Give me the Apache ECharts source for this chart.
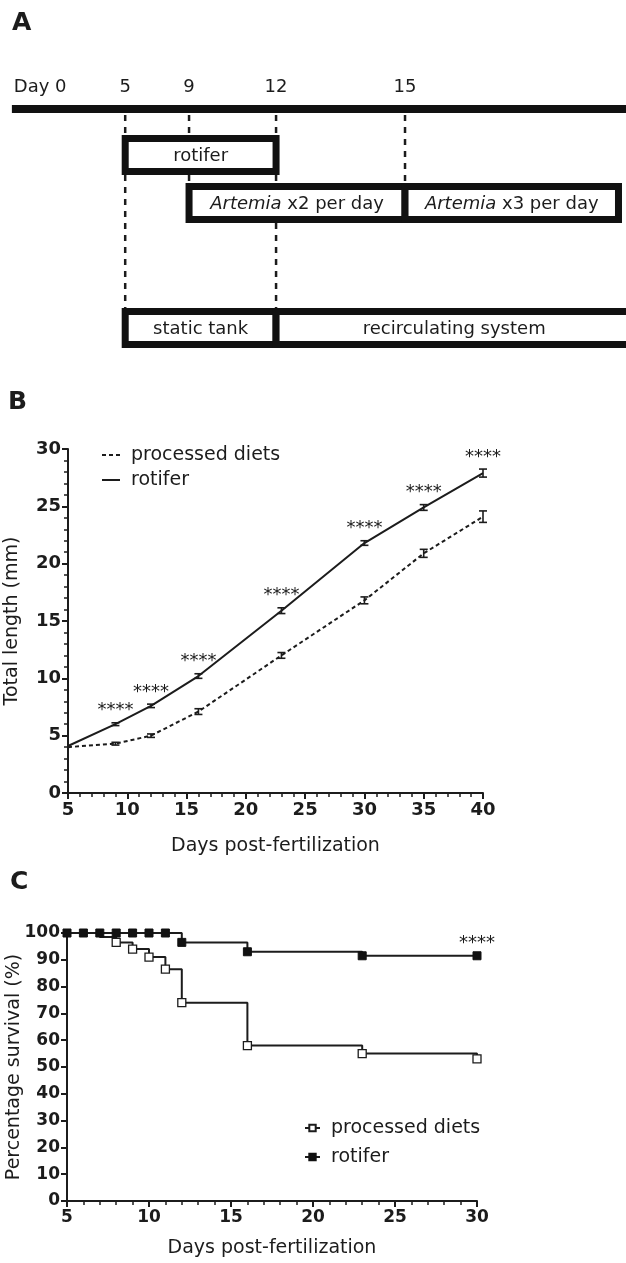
<!DOCTYPE html>
<html><head><meta charset="utf-8">
<script src="https://cdn.jsdelivr.net/npm/echarts@6/dist/echarts.min.js"></script>
<style>html,body{margin:0;padding:0;background:#fff}#c{width:626px;height:1263px}</style>
</head><body><div id="c"></div>
<script>
// ---------- Panel A: feeding / husbandry schedule (schematic) ----------
const dayLabels = ['Day 0', '5', '9', '12', '15'];
const guideDays = [5, 9, 12, 15];
const guideToRow = [3, 2, 3, 2];
const stageNames = ['rotifer', '{i|Artemia} x2 per day', '{i|Artemia} x3 per day', 'static tank', 'recirculating system'];
const stageFrom = ['5', '9', '15', '5', '12'];
const stageTo = ['12', '15', 'end', '12', 'open'];
const stageRow = [1, 2, 2, 3, 3];

// ---------- Panel B: total length ----------
const lengthDays = [5, 9, 12, 16, 23, 30, 35, 40];
const processedLength = [4.0, 4.3, 5.0, 7.1, 12.0, 16.8, 20.9, 24.1];
const processedLengthErr = [0, 0.12, 0.15, 0.25, 0.25, 0.3, 0.35, 0.5];
const rotiferLength = [4.1, 6.0, 7.6, 10.2, 15.9, 21.8, 24.9, 27.9];
const rotiferLengthErr = [0, 0.12, 0.15, 0.2, 0.25, 0.2, 0.25, 0.35];
const lengthSignif = ['', '****', '****', '****', '****', '****', '****', '****'];

// ---------- Panel C: survival ----------
const survProcessedDays = [5, 7, 8, 9, 10, 11, 12, 16, 23, 30];
const survProcessed = [100, 98.5, 96.5, 94, 91, 86.5, 74, 58, 55, 53];
const survProcessedMarker = [false, false, true, true, true, true, true, true, true, true];
const survRotiferDays = [5, 6, 7, 8, 9, 10, 11, 12, 16, 23, 30];
const survRotifer = [100, 100, 100, 100, 100, 100, 100, 96.5, 93, 91.5, 91.5];
const survSignif = '****';

// ---------- layout helpers (schematic positions, % of width) ----------
const schemePos = { 'Day 0': 2.2, '0': 1.9, '5': 20, '9': 30.2, '12': 44.1, '15': 64.7, 'end': 98.8, 'open': 101 };
const rowY = [109, 155, 203, 328];
const rowHalf = 16.5;

const FONT = 'DejaVu Sans';
const INK = '#1c1c1c';

function axisCommon(grid, min, max, interval, minor, labelSize) {
  return {
    type: 'value', gridIndex: grid, min: min, max: max, interval: interval,
    nameMoveOverlap: false,
    axisLine: { show: true, onZero: false, lineStyle: { color: INK, width: 2 } },
    axisTick: { show: true, inside: false, length: 6, lineStyle: { color: INK, width: 2 } },
    minorTick: { show: minor, splitNumber: 5, length: 4, lineStyle: { color: INK, width: 1.5 } },
    splitLine: { show: false },
    minorSplitLine: { show: false },
    axisLabel: { fontFamily: FONT, fontWeight: 'bold', fontSize: labelSize, color: INK, margin: 7 },
    nameTextStyle: { fontFamily: FONT, fontSize: 19, color: INK }
  };
}

const xAxes = [
  { type: 'value', gridIndex: 0, min: 0, max: 100, show: false },
  Object.assign(axisCommon(1, 5, 40, 5, true, 18), { name: 'Days post-fertilization', nameLocation: 'middle', nameGap: 44 }),
  Object.assign(axisCommon(2, 5, 30, 5, true, 17), { name: 'Days post-fertilization', nameLocation: 'middle', nameGap: 38 })
];
xAxes[1].axisLabel.margin = 8; xAxes[2].axisLabel.margin = 8;
const yAxes = [
  { type: 'value', gridIndex: 0, min: 0, max: 360, inverse: true, show: false },
  Object.assign(axisCommon(1, 0, 30, 5, true, 18), { name: 'Total length (mm)', nameLocation: 'middle', nameGap: 46 }),
  Object.assign(axisCommon(2, 0, 100, 10, false, 17), { name: 'Percentage survival (%)', nameLocation: 'middle', nameGap: 43 })
];

const series = [];

// Panel A guides (dashed) drawn first, under the boxes
series.push({
  type: 'custom', xAxisIndex: 0, yAxisIndex: 0, silent: true, z: 1,
  data: guideDays.map((d, i) => [schemePos[String(d)], rowY[0] + 6, rowY[guideToRow[i]] - rowHalf - 3.5]),
  renderItem: function (params, api) {
    const a = api.coord([api.value(0), api.value(1)]);
    const b = api.coord([api.value(0), api.value(2)]);
    return { type: 'line', shape: { x1: a[0], y1: a[1], x2: b[0], y2: b[1] },
      style: { stroke: INK, lineWidth: 2.5, lineDash: [6, 6] } };
  }
});
// Panel A timeline bar and day labels
series.push({
  type: 'custom', xAxisIndex: 0, yAxisIndex: 0, silent: true, z: 3,
  data: dayLabels.map(l => [schemePos[l], l]),
  renderItem: function (params, api) {
    const p = api.coord([api.value(0), rowY[0] - 22]);
    const label = dayLabels[params.dataIndex];
    const children = [{ type: 'text', style: { text: label, x: p[0], y: p[1], fill: INK,
      font: '18px "' + FONT + '"', align: label === 'Day 0' ? 'left' : 'center', verticalAlign: 'middle' } }];
    if (params.dataIndex === 0) {
      const s = api.coord([schemePos['0'], rowY[0]]);
      const e = api.coord([100, rowY[0]]);
      children.push({ type: 'line', shape: { x1: s[0], y1: s[1], x2: e[0], y2: e[1] },
        style: { stroke: '#111', lineWidth: 8 } });
    }
    return { type: 'group', children: children };
  }
});
// Panel A stage boxes
series.push({
  type: 'custom', xAxisIndex: 0, yAxisIndex: 0, silent: true, z: 2,
  data: stageNames.map((n, i) => [schemePos[stageFrom[i]], schemePos[stageTo[i]], rowY[stageRow[i]]]),
  renderItem: function (params, api) {
    const tl = api.coord([api.value(0), api.value(2) - rowHalf]);
    const br = api.coord([api.value(1), api.value(2) + rowHalf]);
    const c = api.coord([(api.value(0) + api.value(1)) / 2, api.value(2)]);
    return { type: 'group', children: [
      { type: 'rect', shape: { x: tl[0], y: tl[1], width: br[0] - tl[0], height: br[1] - tl[1] },
        style: { fill: '#fff', stroke: '#111', lineWidth: 7 } },
      { type: 'text', style: { text: stageNames[params.dataIndex], x: c[0], y: c[1] + 1, fill: INK,
        font: '18px "' + FONT + '"', align: 'center', verticalAlign: 'middle',
        rich: { i: { fontStyle: 'italic', fontFamily: FONT, fontSize: 18, fill: INK } } } }
    ] };
  }
});

// Panel B lines
series.push({
  name: 'processed diets', type: 'line', xAxisIndex: 1, yAxisIndex: 1,
  data: lengthDays.map((d, i) => [d, processedLength[i]]),
  smooth: false, symbol: 'none',
  lineStyle: { color: INK, width: 2, type: [4, 3] }, itemStyle: { color: INK }, z: 3
});
series.push({
  name: 'rotifer', type: 'line', xAxisIndex: 1, yAxisIndex: 1,
  data: lengthDays.map((d, i) => [d, rotiferLength[i]]),
  smooth: false, symbol: 'none',
  lineStyle: { color: INK, width: 2 }, itemStyle: { color: INK }, z: 3
});
function errSeries(vals, errs) {
  return {
    type: 'custom', xAxisIndex: 1, yAxisIndex: 1, silent: true, z: 4,
    data: lengthDays.map((d, i) => [d, vals[i] - errs[i], vals[i] + errs[i]]).filter((r, i) => errs[i] > 0),
    renderItem: function (params, api) {
      const lo = api.coord([api.value(0), api.value(1)]);
      const hi = api.coord([api.value(0), api.value(2)]);
      const w = 4;
      const st = { stroke: INK, lineWidth: 1.6 };
      return { type: 'group', children: [
        { type: 'line', shape: { x1: lo[0], y1: lo[1], x2: hi[0], y2: hi[1] }, style: st },
        { type: 'line', shape: { x1: lo[0] - w, y1: lo[1], x2: lo[0] + w, y2: lo[1] }, style: st },
        { type: 'line', shape: { x1: hi[0] - w, y1: hi[1], x2: hi[0] + w, y2: hi[1] }, style: st }
      ] };
    }
  };
}
series.push(errSeries(processedLength, processedLengthErr));
series.push(errSeries(rotiferLength, rotiferLengthErr));
// significance stars above the rotifer curve
series.push({
  type: 'custom', xAxisIndex: 1, yAxisIndex: 1, silent: true, z: 5,
  data: lengthDays.map((d, i) => [d, rotiferLength[i] + rotiferLengthErr[i]]).filter((r, i) => lengthSignif[i]),
  renderItem: function (params, api) {
    const p = api.coord([api.value(0), api.value(1)]);
    return { type: 'text', style: { text: '****', x: p[0], y: p[1] - 3, fill: INK,
      font: '18px "' + FONT + '"', align: 'center', verticalAlign: 'bottom' } };
  }
});

// Panel C survival curves
series.push({
  name: 'survival: processed diets', type: 'line', xAxisIndex: 2, yAxisIndex: 2, step: 'end',
  data: survProcessedDays.map((d, i) => ({ value: [d, survProcessed[i]], symbolSize: survProcessedMarker[i] ? 8 : 0 })),
  symbol: 'rect', symbolSize: 8, showAllSymbol: true,
  lineStyle: { color: INK, width: 2 },
  itemStyle: { color: '#fff', borderColor: INK, borderWidth: 1.3 }, z: 3
});
series.push({
  name: 'survival: rotifer', type: 'line', xAxisIndex: 2, yAxisIndex: 2, step: 'end',
  data: survRotiferDays.map((d, i) => {
    const item = { value: [d, survRotifer[i]] };
    if (i === survRotiferDays.length - 1) {
      item.label = { show: true, position: 'top', distance: -1, formatter: survSignif,
        fontFamily: FONT, fontSize: 18, color: INK };
    }
    return item;
  }),
  symbol: 'rect', symbolSize: 8, showAllSymbol: true,
  lineStyle: { color: INK, width: 2 },
  itemStyle: { color: '#111', borderColor: '#111', borderWidth: 1 }, z: 4
});

const option = {
  backgroundColor: '#fff',
  animation: false,
  textStyle: { fontFamily: FONT },
  title: [
    { text: 'A', left: 12, top: 11, padding: 0, textStyle: { fontFamily: FONT, fontWeight: 'bold', fontSize: 25, color: INK } },
    { text: 'B', left: 8, top: 390, padding: 0, textStyle: { fontFamily: FONT, fontWeight: 'bold', fontSize: 25, color: INK } },
    { text: 'C', left: 10, top: 870, padding: 0, textStyle: { fontFamily: FONT, fontWeight: 'bold', fontSize: 25, color: INK } }
  ],
  grid: [
    { left: 0, top: 0, width: 626, height: 360, outerBoundsMode: 'none' },
    { left: 68, top: 449, width: 415, height: 344, outerBoundsMode: 'none' },
    { left: 67, top: 933, width: 410, height: 268, outerBoundsMode: 'none' }
  ],
  xAxis: xAxes,
  yAxis: yAxes,
  legend: [
    { data: [{ name: 'processed diets', icon: 'path://M0,0h4v2h-4z M7,0h4v2h-4z M14,0h4v2h-4z' },
             { name: 'rotifer', icon: 'path://M0,0h18v2h-18z' }],
      orient: 'vertical', left: 102, top: 445, padding: 0,
      itemWidth: 18, itemHeight: 2, itemGap: 5, selectedMode: false,
      itemStyle: { color: INK },
      textStyle: { fontFamily: FONT, fontSize: 19, color: INK, lineHeight: 20, padding: [0, 0, 0, 6] } },
    { data: ['survival: processed diets', 'survival: rotifer'], orient: 'vertical', left: 304, top: 1118, padding: 0,
      itemWidth: 15, itemHeight: 8, itemGap: 9, selectedMode: false,
      formatter: n => n.replace('survival: ', ''),
      textStyle: { fontFamily: FONT, fontSize: 19, color: INK, lineHeight: 20, padding: [0, 0, 0, 6] } }
  ],
  series: series
};
const chart = echarts.init(document.getElementById('c'));
chart.setOption(option);
</script></body></html>
